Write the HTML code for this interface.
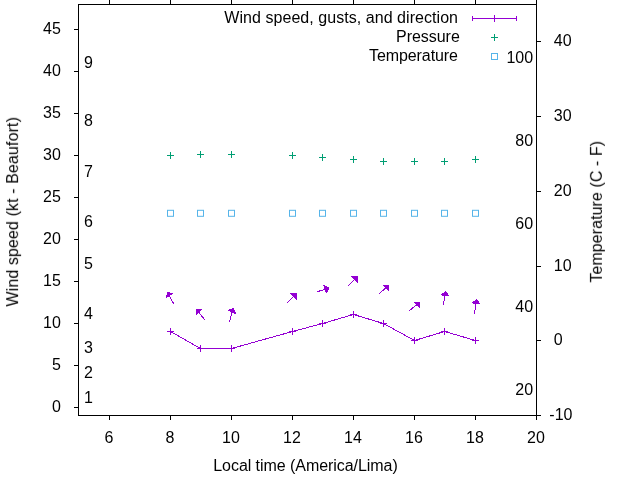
<!DOCTYPE html>
<html><head><meta charset="utf-8"><style>html,body{margin:0;padding:0;background:#fff;width:640px;height:480px;overflow:hidden}svg{display:block}</style></head>
<body><svg width="640" height="480" viewBox="0 0 640 480">
<rect width="640" height="480" fill="#fff"/>
<rect x="78.5" y="4.5" width="458.0" height="411.0" fill="none" stroke="#000" stroke-width="1"/>
<line x1="74" y1="407.5" x2="78.5" y2="407.5" stroke="#000"/>
<line x1="74" y1="365.5" x2="78.5" y2="365.5" stroke="#000"/>
<line x1="74" y1="323.5" x2="78.5" y2="323.5" stroke="#000"/>
<line x1="74" y1="281.5" x2="78.5" y2="281.5" stroke="#000"/>
<line x1="74" y1="239.5" x2="78.5" y2="239.5" stroke="#000"/>
<line x1="74" y1="197.5" x2="78.5" y2="197.5" stroke="#000"/>
<line x1="74" y1="155.5" x2="78.5" y2="155.5" stroke="#000"/>
<line x1="74" y1="113.5" x2="78.5" y2="113.5" stroke="#000"/>
<line x1="74" y1="71.5" x2="78.5" y2="71.5" stroke="#000"/>
<line x1="74" y1="29.5" x2="78.5" y2="29.5" stroke="#000"/>
<line x1="536.5" y1="415.5" x2="541" y2="415.5" stroke="#000"/>
<line x1="536.5" y1="340.5" x2="541" y2="340.5" stroke="#000"/>
<line x1="536.5" y1="266.5" x2="541" y2="266.5" stroke="#000"/>
<line x1="536.5" y1="191.5" x2="541" y2="191.5" stroke="#000"/>
<line x1="536.5" y1="116.5" x2="541" y2="116.5" stroke="#000"/>
<line x1="536.5" y1="41.5" x2="541" y2="41.5" stroke="#000"/>
<line x1="109.5" y1="415.5" x2="109.5" y2="420" stroke="#000"/>
<line x1="109.5" y1="0" x2="109.5" y2="4.5" stroke="#000"/>
<line x1="170.5" y1="415.5" x2="170.5" y2="420" stroke="#000"/>
<line x1="170.5" y1="0" x2="170.5" y2="4.5" stroke="#000"/>
<line x1="231.5" y1="415.5" x2="231.5" y2="420" stroke="#000"/>
<line x1="231.5" y1="0" x2="231.5" y2="4.5" stroke="#000"/>
<line x1="292.5" y1="415.5" x2="292.5" y2="420" stroke="#000"/>
<line x1="292.5" y1="0" x2="292.5" y2="4.5" stroke="#000"/>
<line x1="353.5" y1="415.5" x2="353.5" y2="420" stroke="#000"/>
<line x1="353.5" y1="0" x2="353.5" y2="4.5" stroke="#000"/>
<line x1="414.5" y1="415.5" x2="414.5" y2="420" stroke="#000"/>
<line x1="414.5" y1="0" x2="414.5" y2="4.5" stroke="#000"/>
<line x1="475.5" y1="415.5" x2="475.5" y2="420" stroke="#000"/>
<line x1="475.5" y1="0" x2="475.5" y2="4.5" stroke="#000"/>
<line x1="536.5" y1="415.5" x2="536.5" y2="420" stroke="#000"/>
<line x1="536.5" y1="0" x2="536.5" y2="4.5" stroke="#000"/>
<g stroke="#9400d3" fill="none"><line x1="472.5" y1="18.5" x2="517" y2="18.5"/><line x1="472.5" y1="16" x2="472.5" y2="21"/><line x1="516.5" y1="16" x2="516.5" y2="21"/><line x1="494.5" y1="15" x2="494.5" y2="22"/></g>
<g stroke="#009e73" fill="none"><line x1="491" y1="37.5" x2="498" y2="37.5"/><line x1="494.5" y1="34" x2="494.5" y2="41"/></g>
<rect x="491.5" y="53.5" width="6" height="6" fill="none" stroke="#56b4e9"/>
<polyline points="170.5,331.5 200.5,348.5 231.5,348.5 292.5,331.5 322.5,323.5 353.5,314.5 383.5,323.5 414.5,340.5 444.5,331.5 475.5,340.5" fill="none" stroke="#9400d3" stroke-width="1" shape-rendering="crispEdges"/>
<g stroke="#9400d3"><line x1="167.0" y1="331.5" x2="174.0" y2="331.5"/><line x1="170.5" y1="328.0" x2="170.5" y2="335.0"/></g>
<g stroke="#9400d3"><line x1="197.0" y1="348.5" x2="204.0" y2="348.5"/><line x1="200.5" y1="345.0" x2="200.5" y2="352.0"/></g>
<g stroke="#9400d3"><line x1="228.0" y1="348.5" x2="235.0" y2="348.5"/><line x1="231.5" y1="345.0" x2="231.5" y2="352.0"/></g>
<g stroke="#9400d3"><line x1="289.0" y1="331.5" x2="296.0" y2="331.5"/><line x1="292.5" y1="328.0" x2="292.5" y2="335.0"/></g>
<g stroke="#9400d3"><line x1="319.0" y1="323.5" x2="326.0" y2="323.5"/><line x1="322.5" y1="320.0" x2="322.5" y2="327.0"/></g>
<g stroke="#9400d3"><line x1="350.0" y1="314.5" x2="357.0" y2="314.5"/><line x1="353.5" y1="311.0" x2="353.5" y2="318.0"/></g>
<g stroke="#9400d3"><line x1="380.0" y1="323.5" x2="387.0" y2="323.5"/><line x1="383.5" y1="320.0" x2="383.5" y2="327.0"/></g>
<g stroke="#9400d3"><line x1="411.0" y1="340.5" x2="418.0" y2="340.5"/><line x1="414.5" y1="337.0" x2="414.5" y2="344.0"/></g>
<g stroke="#9400d3"><line x1="441.0" y1="331.5" x2="448.0" y2="331.5"/><line x1="444.5" y1="328.0" x2="444.5" y2="335.0"/></g>
<g stroke="#9400d3"><line x1="472.0" y1="340.5" x2="479.0" y2="340.5"/><line x1="475.5" y1="337.0" x2="475.5" y2="344.0"/></g>
<g stroke="#009e73"><line x1="167.0" y1="155.5" x2="174.0" y2="155.5"/><line x1="170.5" y1="152.0" x2="170.5" y2="159.0"/></g>
<g stroke="#009e73"><line x1="197.0" y1="154.5" x2="204.0" y2="154.5"/><line x1="200.5" y1="151.0" x2="200.5" y2="158.0"/></g>
<g stroke="#009e73"><line x1="228.0" y1="154.5" x2="235.0" y2="154.5"/><line x1="231.5" y1="151.0" x2="231.5" y2="158.0"/></g>
<g stroke="#009e73"><line x1="289.0" y1="155.5" x2="296.0" y2="155.5"/><line x1="292.5" y1="152.0" x2="292.5" y2="159.0"/></g>
<g stroke="#009e73"><line x1="319.0" y1="157.5" x2="326.0" y2="157.5"/><line x1="322.5" y1="154.0" x2="322.5" y2="161.0"/></g>
<g stroke="#009e73"><line x1="350.0" y1="159.5" x2="357.0" y2="159.5"/><line x1="353.5" y1="156.0" x2="353.5" y2="163.0"/></g>
<g stroke="#009e73"><line x1="380.0" y1="161.5" x2="387.0" y2="161.5"/><line x1="383.5" y1="158.0" x2="383.5" y2="165.0"/></g>
<g stroke="#009e73"><line x1="411.0" y1="161.5" x2="418.0" y2="161.5"/><line x1="414.5" y1="158.0" x2="414.5" y2="165.0"/></g>
<g stroke="#009e73"><line x1="441.0" y1="161.5" x2="448.0" y2="161.5"/><line x1="444.5" y1="158.0" x2="444.5" y2="165.0"/></g>
<g stroke="#009e73"><line x1="472.0" y1="159.5" x2="479.0" y2="159.5"/><line x1="475.5" y1="156.0" x2="475.5" y2="163.0"/></g>
<rect x="167.5" y="210.3" width="6" height="6" fill="none" stroke="#56b4e9"/>
<rect x="197.5" y="210.3" width="6" height="6" fill="none" stroke="#56b4e9"/>
<rect x="228.5" y="210.3" width="6" height="6" fill="none" stroke="#56b4e9"/>
<rect x="289.5" y="210.3" width="6" height="6" fill="none" stroke="#56b4e9"/>
<rect x="319.5" y="210.3" width="6" height="6" fill="none" stroke="#56b4e9"/>
<rect x="350.5" y="210.3" width="6" height="6" fill="none" stroke="#56b4e9"/>
<rect x="380.5" y="210.3" width="6" height="6" fill="none" stroke="#56b4e9"/>
<rect x="411.5" y="210.3" width="6" height="6" fill="none" stroke="#56b4e9"/>
<rect x="441.5" y="210.3" width="6" height="6" fill="none" stroke="#56b4e9"/>
<rect x="472.5" y="210.3" width="6" height="6" fill="none" stroke="#56b4e9"/>
<line x1="173.84" y1="304.11" x2="167.5" y2="292.5" stroke="#9400d3" shape-rendering="crispEdges"/>
<polygon points="167.5,292.5 172.5,293.5 166.5,297.5" fill="#9400d3" stroke="#9400d3" stroke-width="1" stroke-linejoin="round" shape-rendering="crispEdges"/>
<line x1="204.94" y1="320.05" x2="196.5" y2="309.5" stroke="#9400d3" shape-rendering="crispEdges"/>
<polygon points="196.5,309.5 201.5,309.5 196.5,314.5" fill="#9400d3" stroke="#9400d3" stroke-width="1" stroke-linejoin="round" shape-rendering="crispEdges"/>
<line x1="229.32" y1="322.18" x2="233.0" y2="308.5" stroke="#9400d3" shape-rendering="crispEdges"/>
<polygon points="233.0,308.5 228.5,310.5 235.5,313.5" fill="#9400d3" stroke="#9400d3" stroke-width="1" stroke-linejoin="round" shape-rendering="crispEdges"/>
<line x1="287.01" y1="302.99" x2="296.5" y2="293.5" stroke="#9400d3" shape-rendering="crispEdges"/>
<polygon points="296.5,293.5 290.5,293.5 296.5,299.5" fill="#9400d3" stroke="#9400d3" stroke-width="1" stroke-linejoin="round" shape-rendering="crispEdges"/>
<line x1="317.33" y1="291.71" x2="329.0" y2="288.0" stroke="#9400d3" shape-rendering="crispEdges"/>
<polygon points="329.0,288.0 324.0,285.5 326.5,293.0" fill="#9400d3" stroke="#9400d3" stroke-width="1" stroke-linejoin="round" shape-rendering="crispEdges"/>
<line x1="348.01" y1="285.99" x2="357.5" y2="276.5" stroke="#9400d3" shape-rendering="crispEdges"/>
<polygon points="357.5,276.5 351.5,276.5 357.5,282.5" fill="#9400d3" stroke="#9400d3" stroke-width="1" stroke-linejoin="round" shape-rendering="crispEdges"/>
<line x1="378.98" y1="293.97" x2="388.5" y2="285.5" stroke="#9400d3" shape-rendering="crispEdges"/>
<polygon points="388.5,285.5 383.5,285.5 388.5,290.5" fill="#9400d3" stroke="#9400d3" stroke-width="1" stroke-linejoin="round" shape-rendering="crispEdges"/>
<line x1="408.95" y1="310.94" x2="419.5" y2="302.5" stroke="#9400d3" shape-rendering="crispEdges"/>
<polygon points="419.5,302.5 414.5,302.5 419.5,307.5" fill="#9400d3" stroke="#9400d3" stroke-width="1" stroke-linejoin="round" shape-rendering="crispEdges"/>
<line x1="443.39" y1="305.19" x2="445.5" y2="291.5" stroke="#9400d3" shape-rendering="crispEdges"/>
<polygon points="445.5,291.5 441.5,295.0 449.0,296.0" fill="#9400d3" stroke="#9400d3" stroke-width="1" stroke-linejoin="round" shape-rendering="crispEdges"/>
<line x1="474.40" y1="314.19" x2="476.5" y2="299.5" stroke="#9400d3" shape-rendering="crispEdges"/>
<polygon points="476.5,299.5 472.5,303.0 480.0,304.0" fill="#9400d3" stroke="#9400d3" stroke-width="1" stroke-linejoin="round" shape-rendering="crispEdges"/>
<g font-family="'Liberation Sans', sans-serif" font-size="16" fill="#000" opacity="0.999">
<text x="60.8" y="411.9" text-anchor="end">0</text>
<text x="60.8" y="369.9" text-anchor="end">5</text>
<text x="60.8" y="327.9" text-anchor="end">10</text>
<text x="60.8" y="285.9" text-anchor="end">15</text>
<text x="60.8" y="243.9" text-anchor="end">20</text>
<text x="60.8" y="201.9" text-anchor="end">25</text>
<text x="60.8" y="159.9" text-anchor="end">30</text>
<text x="60.8" y="117.9" text-anchor="end">35</text>
<text x="60.8" y="75.9" text-anchor="end">40</text>
<text x="60.8" y="33.9" text-anchor="end">45</text>
<text x="549.3" y="420.0" text-anchor="start">-10</text>
<text x="553.8" y="345.0" text-anchor="start">0</text>
<text x="553.8" y="271.0" text-anchor="start">10</text>
<text x="553.8" y="196.0" text-anchor="start">20</text>
<text x="553.8" y="121.0" text-anchor="start">30</text>
<text x="553.8" y="46.0" text-anchor="start">40</text>
<text x="108.9" y="443.2" text-anchor="middle">6</text>
<text x="169.9" y="443.2" text-anchor="middle">8</text>
<text x="230.9" y="443.2" text-anchor="middle">10</text>
<text x="291.9" y="443.2" text-anchor="middle">12</text>
<text x="352.9" y="443.2" text-anchor="middle">14</text>
<text x="413.9" y="443.2" text-anchor="middle">16</text>
<text x="474.9" y="443.2" text-anchor="middle">18</text>
<text x="535.9" y="443.2" text-anchor="middle">20</text>
<text x="84.0" y="403" text-anchor="start">1</text>
<text x="84.0" y="377.9" text-anchor="start">2</text>
<text x="84.0" y="352.7" text-anchor="start">3</text>
<text x="84.0" y="318.8" text-anchor="start">4</text>
<text x="84.0" y="269" text-anchor="start">5</text>
<text x="84.0" y="226.8" text-anchor="start">6</text>
<text x="84.0" y="176.8" text-anchor="start">7</text>
<text x="84.0" y="125.8" text-anchor="start">8</text>
<text x="84.0" y="67.9" text-anchor="start">9</text>
<text x="533.1" y="395" text-anchor="end">20</text>
<text x="533.1" y="312.25" text-anchor="end">40</text>
<text x="533.1" y="229.4" text-anchor="end">60</text>
<text x="533.1" y="146.1" text-anchor="end">80</text>
<text x="533.1" y="62.75" text-anchor="end">100</text>
<text x="305.5" y="470.6" text-anchor="middle" textLength="184.5" lengthAdjust="spacing">Local time (America/Lima)</text>
<text x="0" y="0" text-anchor="middle" textLength="189.5" lengthAdjust="spacing" transform="translate(18.1,211.8) rotate(-90)">Wind speed (kt - Beaufort)</text>
<text x="0" y="0" text-anchor="middle" textLength="141.7" lengthAdjust="spacing" transform="translate(601.9,211.8) rotate(-90)">Temperature (C - F)</text>
<text x="458" y="23" text-anchor="end" textLength="233.7" lengthAdjust="spacing">Wind speed, gusts, and direction</text>
<text x="459.8" y="42" text-anchor="end" textLength="63.7" lengthAdjust="spacing">Pressure</text>
<text x="458" y="61" text-anchor="end" textLength="89.0" lengthAdjust="spacing">Temperature</text>
</g>
</svg></body></html>
